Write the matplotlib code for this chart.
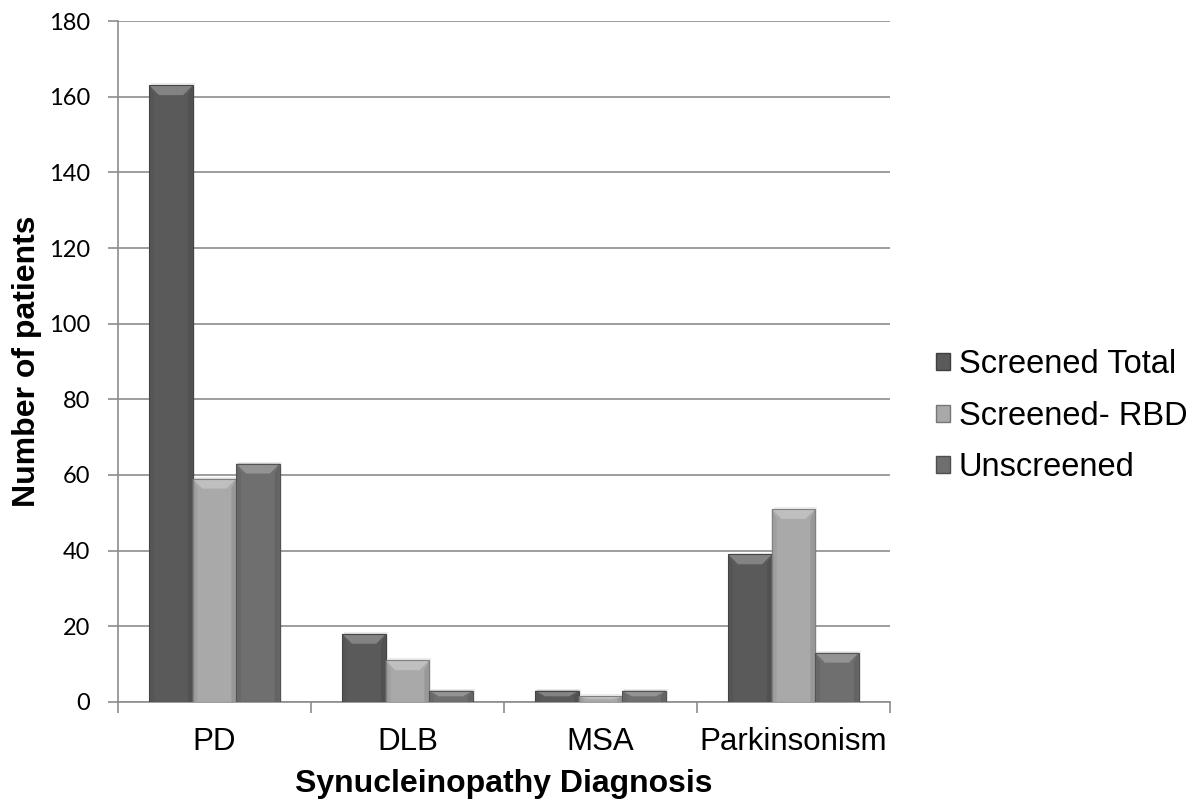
import matplotlib
matplotlib.use("Agg")
import matplotlib.pyplot as plt
from matplotlib.patches import Rectangle, Polygon
import numpy as np

plt.rcParams['font.family'] = ['Liberation Sans', 'DejaVu Sans']

categories = ["PD", "DLB", "MSA", "Parkinsonism"]
series_names = ["Screened Total", "Screened- RBD", "Unscreened"]
screened_total = [163, 18, 3, 39]
screened_rbd = [59, 11, 1.5, 51]
unscreened = [63, 3, 3, 13]
series_values = [screened_total, screened_rbd, unscreened]
series_colors = ["#5a5a5a", "#a9a9a9", "#6f6f6f"]
yticks = [0, 20, 40, 60, 80, 100, 120, 140, 160, 180]


def shade(color, factor):
    c = np.array(matplotlib.colors.to_rgb(color))
    if factor >= 0:
        c = c + (1 - c) * factor
    else:
        c = c * (1 + factor)
    return tuple(np.clip(c, 0, 1))


fig = plt.figure(figsize=(11.99, 8.02), dpi=100)
ax = fig.add_axes([0.0984, 0.1247, 0.6439, 0.8491])

n = len(series_values)
group_w = 0.675
bar_w = group_w / n
x = np.arange(len(categories))
bx = 0.05    # bevel width in category units
by = 2.6     # bevel height in data units

for si, (vals, col) in enumerate(zip(series_values, series_colors)):
    for xi, v in zip(x, vals):
        left = xi - group_w / 2 + si * bar_w
        right = left + bar_w
        bh = min(by, v / 2)
        # soft drop shadow
        ax.add_patch(Rectangle((left + 0.01, 0), bar_w, v + 0.5,
                               facecolor="#000000", alpha=0.08,
                               edgecolor="none", zorder=2))
        ax.add_patch(Rectangle((left, 0), bar_w, v, facecolor=col,
                               edgecolor="none", zorder=3))
        # bevelled top edge
        ax.add_patch(Polygon([(left, v), (right, v), (right - bx, v - bh),
                              (left + bx, v - bh)], closed=True,
                             facecolor=shade(col, 0.25), edgecolor="none",
                             zorder=4))
        # bevelled sides, kept subtle
        ax.add_patch(Polygon([(left, 0), (left, v), (left + bx * 0.5, v - bh),
                              (left + bx * 0.5, 0)], closed=True,
                             facecolor=shade(col, -0.06), edgecolor="none",
                             zorder=4))
        ax.add_patch(Polygon([(right, 0), (right, v), (right - bx * 0.5, v - bh),
                              (right - bx * 0.5, 0)], closed=True,
                             facecolor=shade(col, -0.10), edgecolor="none",
                             zorder=4))
        ax.add_patch(Rectangle((left, 0), bar_w, v, facecolor="none",
                               edgecolor=shade(col, -0.25), linewidth=0.8,
                               zorder=5))

ax.set_xlim(-0.5, len(categories) - 0.5)
ax.set_ylim(0, 180)
ax.set_yticks(yticks)
ax.set_yticklabels([str(t) for t in yticks], fontsize=17,
                   family=['Lato', 'DejaVu Sans'])
ax.yaxis.grid(True, color="#8c8c8c", linewidth=1.2)
ax.set_axisbelow(True)

ax.set_xticks(x)
ax.set_xticklabels(categories, fontsize=22.5)
ax.set_xticks(np.arange(len(categories) + 1) - 0.5, minor=True)
ax.tick_params(axis="x", which="major", length=0, pad=18)
ax.tick_params(axis="x", which="minor", length=8, color="#8c8c8c", width=1.2)
ax.tick_params(axis="y", length=7, color="#8c8c8c", width=1.2, pad=13)

for side in ("top", "right"):
    ax.spines[side].set_visible(False)
for side in ("left", "bottom"):
    ax.spines[side].set_color("#8c8c8c")
    ax.spines[side].set_linewidth(1.2)

ax.set_xlabel("Synucleinopathy Diagnosis", fontsize=23, fontweight="bold",
              labelpad=8.5)
ax.set_ylabel("Number of patients", fontsize=23, fontweight="bold",
              labelpad=5)

handles = [Rectangle((0, 0), 1, 1, facecolor=c, edgecolor=shade(c, -0.3))
           for c in series_colors]
fig.legend(handles, series_names, loc="center left",
           bbox_to_anchor=(0.7805, 0.481), frameon=False, fontsize=23.5,
           handlelength=0.43, handleheight=0.43, handletextpad=0.28,
           labelspacing=0.63, borderpad=0, borderaxespad=0)

fig.savefig("out.png", dpi=100)
